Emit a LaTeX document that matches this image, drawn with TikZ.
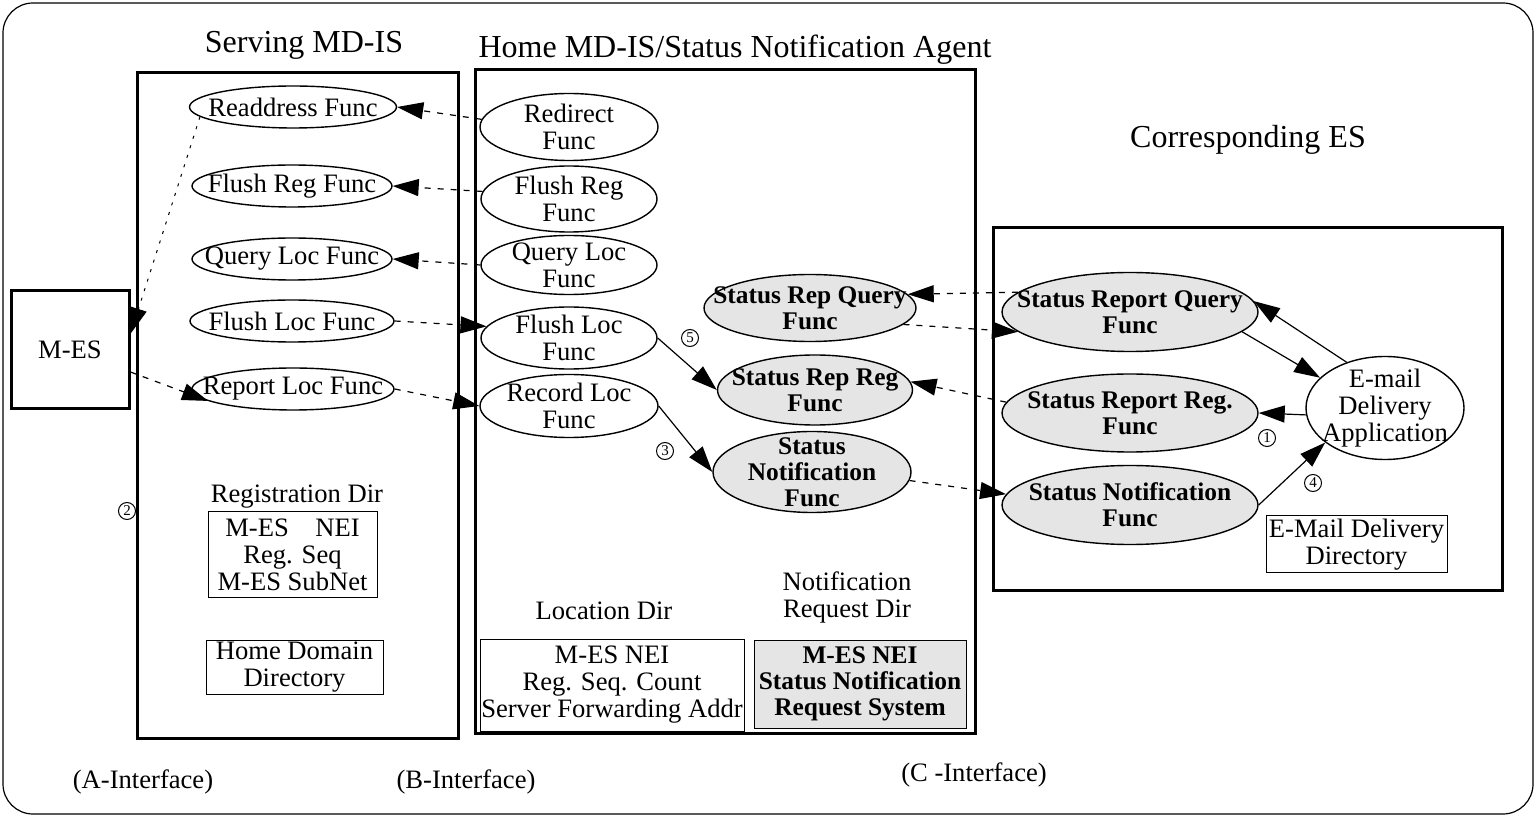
\documentclass[tikz,border=0pt]{standalone}
\usepackage{fontspec}
\setmainfont{Liberation Serif}
\usetikzlibrary{shapes.geometric,arrows.meta}

\newcommand{\txtfont}{\fontsize{13.3}{13.5}\selectfont}
\newcommand{\boldtxt}{\fontsize{12.7}{13}\selectfont\bfseries}
\newcommand{\titlefont}{\fontsize{16}{18}\selectfont}
\newcommand{\numfont}{\fontsize{7.5}{8}\selectfont}

\tikzset{
  func/.style={ellipse, draw, line width=0.7pt, inner sep=-100pt, align=center, font=\txtfont},
  sfunc/.style={func, fill=gray!20, font=\boldtxt},
  sysbox/.style={draw, line width=1.5pt, inner sep=0pt},
  dirbox/.style={draw, line width=0.5pt, inner sep=0pt, align=center, font=\txtfont},
  lbl/.style={align=center, font=\txtfont, inner sep=0pt},
  stepnum/.style={circle, draw, line width=0.5pt, minimum size=8.5pt, inner sep=0pt, font=\numfont},
  tip/.style={-{Triangle[length=13pt,width=8.5pt]}},
  msg/.style={tip, line width=0.6pt, dash pattern=on 3pt off 3.5pt},
  call/.style={tip, line width=0.6pt}
}

\begin{document}
\begin{tikzpicture}[x=0.5pt, y=-0.5pt]
        \useasboundingbox (0,0) rectangle (1536,817);
        \draw[line width=0.6pt, rounded corners=15pt] (3,3) rectangle (1533,814);

        % Systems
        \node[sysbox, minimum width=59pt, minimum height=59pt, font=\txtfont] (MES) at (70,350) {M-ES};
        \node[sysbox, minimum width=160.5pt, minimum height=332.5pt] (serving) at (297.5,405.5) {};
        \node[sysbox, minimum width=250pt, minimum height=331.5pt] (home) at (725,401.5) {};
        \node[sysbox, minimum width=254.5pt, minimum height=181pt] (corres) at (1247.5,409) {};

        \node[font=\titlefont] (servingtitle) at (304,45) {Serving MD-IS};
        \node[font=\titlefont] (hometitle) at (735,50) {Home MD-IS/Status Notification Agent};
        \node[font=\titlefont] (correstitle) at (1248,140) {Corresponding ES};

        % Nodes for serving MD-IS
        \node[func, minimum width=103.5pt, minimum height=21pt] (ReaddrS) at (293,107) {Readdress Func};
        \node[func, minimum width=100pt, minimum height=21pt] (FlushRegS) at (292,186) {Flush Reg Func};
        \node[func, minimum width=100pt, minimum height=21pt] (QueryLocS) at (292,259) {Query Loc Func};
        \node[func, minimum width=102pt, minimum height=21pt] (FlushLocS) at (292,321) {Flush Loc Func};
        \node[func, minimum width=101pt, minimum height=21pt] (ReportLocS) at (293,389) {Report Loc Func};

        \node[lbl] (regdirlbl) at (297,497) {Registration Dir};
        \node[dirbox, minimum width=84.5pt, minimum height=42.5pt] (regdir) at (292.5,554.5) {M-ES\quad NEI\\Reg. Seq\\M-ES SubNet};
        \node[dirbox, minimum width=88.5pt, minimum height=27pt] (homedir) at (294.5,667) {Home Domain\\Directory};

        % Nodes for home MD-IS
        \node[func, minimum width=89pt, minimum height=33.5pt] (RedirH) at (569,127) {Redirect\\Func};
        \node[func, minimum width=88pt, minimum height=33pt] (FlushRegH) at (569,199) {Flush Reg\\Func};
        \node[func, minimum width=88pt, minimum height=29.5pt] (QueryLocH) at (569,265) {Query Loc\\Func};
        \node[func, minimum width=88pt, minimum height=31pt] (FlushLocH) at (569,338) {Flush Loc\\Func};
        \node[func, minimum width=89pt, minimum height=31.5pt] (RecordLocH) at (569,406) {Record Loc\\Func};

        \node[sfunc, minimum width=106pt, minimum height=33.5pt] (RepQueryH) at (810,308) {Status Rep Query\\Func};
        \node[sfunc, minimum width=97.5pt, minimum height=35pt] (RepRegH) at (815,390) {Status Rep Reg\\Func};
        \node[sfunc, minimum width=99pt, minimum height=40.5pt] (StatNotH) at (812,472) {Status\\Notification\\Func};

        \node[lbl] (locdirlbl) at (604,611) {Location Dir};
        \node[dirbox, minimum width=132pt, minimum height=46pt] (locdir) at (612,685) {M-ES NEI\\Reg. Seq. Count\\Server Forwarding Addr};
        \node[lbl] (notdirlbl) at (847,597) {Notification\\Request Dir};
        \node[dirbox, fill=gray!20, font=\boldtxt, minimum width=106pt, minimum height=44pt] (notdir) at (860,684) {M-ES NEI\\Status Notification\\Request System};

        % Nodes for corresponding ES
        \node[sfunc, minimum width=128pt, minimum height=39.5pt] (RepQueryE) at (1130,312) {Status Report Query\\Func};
        \node[sfunc, minimum width=128pt, minimum height=39pt] (RepRegE) at (1130,413) {Status Report Reg.\\Func};
        \node[sfunc, minimum width=128pt, minimum height=39.5pt] (StatNotE) at (1130,505) {Status Notification\\Func};
        \node[func, minimum width=79pt, minimum height=51.5pt] (Email) at (1385,408) {E-mail\\Delivery\\Application};
        \node[dirbox, minimum width=90.5pt, minimum height=28.5pt] (maildir) at (1356.5,544.5) {E-Mail Delivery\\Directory};

        % Step numbers
        \node[stepnum] (n1) at (1267,438) {1};
        \node[stepnum] (n2) at (127,511) {2};
        \node[stepnum] (n3) at (665,451) {3};
        \node[stepnum] (n4) at (1313,483) {4};
        \node[stepnum] (n5) at (690,338) {5};

        % Interfaces
        \node[lbl] (ifa) at (143,782) {(A-Interface)};
        \node[lbl] (ifb) at (466,782) {(B-Interface)};
        \node[lbl] (ifc) at (974,775) {(C -Interface)};

        % A-interface
        \draw[tip, line width=0.5pt, dash pattern=on 1.5pt off 3.5pt] (ReaddrS.186) -- (MES.15);
        \draw[msg] (MES.-20) -- (ReportLocS.188);

        % B-interface
        \draw[msg] (RedirH.175) -- (ReaddrS.east);
        \draw[msg] (FlushRegH.175) -- (FlushRegS.east);
        \draw[msg] (QueryLocH.west) -- (QueryLocS.east);
        \draw[msg] (FlushLocS.east) -- (FlushLocH.172);
        \draw[msg] (ReportLocS.east) -- (RecordLocH.west);

        % Inside home MD-IS
        \draw[call] (FlushLocH.east) -- (RepRegH.west);
        \draw[call] (RecordLocH.east) -- (StatNotH.west);

        % C-interface
        \draw[msg] (RepQueryE.170) -- (RepQueryH.8);
        \draw[msg] (RepQueryH.-10) -- (RepQueryE.-170);
        \draw[msg] (RepRegE.175) -- (RepRegH.5);
        \draw[msg] (StatNotH.-5) -- (StatNotE.175);

        % Inside corresponding ES
        \draw[call] (RepQueryE.-10) -- (Email.155);
        \draw[call] (Email.130) -- (RepQueryE.5);
        \draw[call] (Email.185) -- (RepRegE.east);
        \draw[call] (StatNotE.east) -- (Email.210);

\end{tikzpicture}
\end{document}
